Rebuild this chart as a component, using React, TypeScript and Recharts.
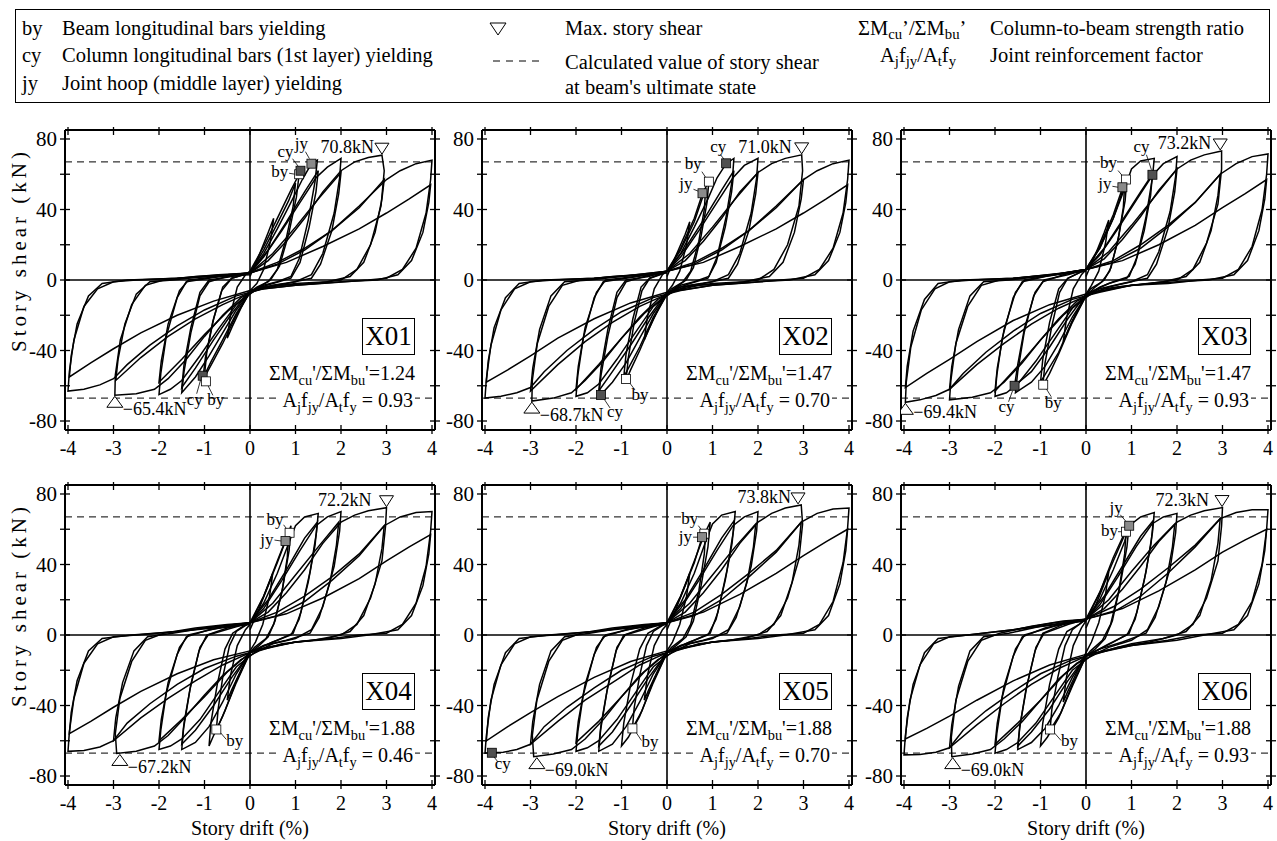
import React from 'react'
import { ComposedChart, Line, Scatter, XAxis, YAxis, ReferenceLine } from 'recharts'

const FONT = "'Liberation Serif', 'Times New Roman', Times, serif"

// axis ticks (story drift %, story shear kN)
const DRIFT_TICKS = [-4, -3, -2, -1, 0, 1, 2, 3, 4]
const SHEAR_TICKS = [-80, -60, -40, -20, 0, 20, 40, 60, 80]
const CALC_SHEAR = [67, -67]

const SPECIMENS = ['X01', 'X02', 'X03', 'X04', 'X05', 'X06']
const RATIO_CB = ['1.24', '1.47', '1.47', '1.88', '1.88', '1.88']
const JOINT_RF = ['0.93', '0.70', '0.93', '0.46', '0.70', '0.93']

// hysteresis cycles, flat [drift, shear, drift, shear, ...]
const X01_loops = [
  [0,2, 0.2,14, 0.4,27, 0.52,35, 0.45,22, 0.3,6, 0.15,-2, 0,-6, -0.2,-16, -0.4,-27, -0.5,-33, -0.43,-20, -0.28,-4, -0.1,3, 0,5],
  [0,5, 0.3,19, 0.6,35, 0.9,51, 1.08,60, 1.02,47, 0.85,26, 0.65,8, 0.45,0, 0.2,-4, 0,-7, -0.3,-20, -0.6,-36, -0.85,-48, -1.04,-57, -0.98,-44, -0.82,-24, -0.62,-6, -0.4,1, -0.15,3, 0,4],
  [0,4, 0.3,17, 0.6,32, 0.85,45, 1.0,55, 0.95,42, 0.8,24, 0.6,6, 0.4,-1, 0.15,-4, 0,-7, -0.3,-19, -0.6,-34, -0.85,-46, -1.0,-54, -0.95,-41, -0.8,-22, -0.6,-4, -0.4,1, 0,4],
  [0,4, 0.3,15, 0.6,29, 0.9,44, 1.15,57, 1.35,66, 1.48,68, 1.43,56, 1.28,34, 1.08,12, 0.9,2, 0.6,-1, 0.3,-3, 0,-7, -0.3,-17, -0.6,-30, -0.9,-43, -1.2,-55, -1.5,-64, -1.45,-52, -1.3,-30, -1.1,-9, -0.9,-1, -0.5,2, 0,4],
  [0,4, 0.4,17, 0.8,33, 1.2,50, 1.5,62, 1.45,50, 1.3,30, 1.1,10, 0.9,1, 0.5,-2, 0,-6, -0.4,-19, -0.8,-34, -1.2,-50, -1.5,-61, -1.45,-48, -1.3,-27, -1.1,-7, -0.9,0, -0.4,2, 0,4],
  [0,4, 0.3,13, 0.7,28, 1.1,44, 1.45,58, 1.7,64, 2.0,69, 1.97,58, 1.85,38, 1.6,15, 1.35,3, 1.0,-1, 0.5,-3, 0.1,-6, -0.3,-14, -0.7,-28, -1.1,-43, -1.5,-57, -1.75,-62, -2.0,-65, -1.96,-53, -1.84,-32, -1.6,-10, -1.4,-1, -0.9,1, -0.4,3, 0,4],
  [0,4, 0.5,15, 1.0,30, 1.5,46, 2.0,61, 1.95,49, 1.8,28, 1.55,9, 1.35,1, 0.8,-2, 0.3,-4, 0,-7, -0.5,-18, -1.0,-31, -1.5,-45, -2.0,-58, -1.95,-46, -1.8,-25, -1.55,-6, -1.35,0, -0.7,2, 0,4],
  [0,4, 0.4,11, 0.8,22, 1.2,35, 1.6,50, 2.0,62, 2.3,67, 2.6,69.5, 2.9,70.8, 2.95,62, 2.88,42, 2.65,20, 2.35,6, 2.0,0, 1.4,-2, 0.7,-3, 0.2,-5, -0.2,-10, -0.6,-20, -1.0,-32, -1.4,-45, -1.8,-56, -2.1,-62, -2.5,-64.5, -2.97,-65.4, -2.96,-54, -2.85,-34, -2.6,-14, -2.3,-3, -1.9,0, -1.2,2, -0.5,3, 0,4],
  [0,4, 0.6,10, 1.2,18, 1.8,28, 2.4,41, 2.95,57, 2.9,46, 2.75,27, 2.5,10, 2.2,2, 1.7,-1, 1.0,-2, 0.4,-4, 0,-7, -0.6,-14, -1.2,-22, -1.8,-32, -2.4,-44, -2.95,-57, -2.9,-45, -2.75,-25, -2.5,-8, -2.2,-1, -1.7,0, -1.0,2, 0,4],
  [0,4, 0.6,9, 1.2,17, 1.8,28, 2.4,42, 3.0,57, 3.3,62, 3.65,66, 4.0,68, 3.97,57, 3.87,38, 3.65,18, 3.35,6, 3.0,1, 2.6,0, 1.8,-1.5, 1.0,-3, 0.3,-5, -0.3,-9, -1.0,-17, -1.6,-26, -2.2,-37, -2.7,-48, -3.0,-56, -3.3,-59.5, -3.65,-62, -4.0,-63, -3.97,-52, -3.87,-34, -3.65,-15, -3.35,-5, -3.0,-1, -2.5,0, -1.6,1, -0.7,3, 0,4],
  [0,4, 0.8,10, 1.6,19, 2.4,29, 3.0,38, 3.5,46, 3.97,54, 3.93,44, 3.8,27, 3.55,11, 3.25,3, 2.8,0, 2.0,-1, 1.0,-3, 0,-6, -0.8,-12, -1.6,-20, -2.4,-30, -3.0,-39, -3.5,-47, -3.97,-55, -3.93,-43, -3.8,-25, -3.55,-9, -3.25,-2, -2.7,0, -1.6,1, 0,3],
]

const X02_loops = [
  [0,2, 0.2,14, 0.4,26, 0.5,33, 0.43,20, 0.28,5, 0.12,-3, 0,-7, -0.2,-17, -0.4,-28, -0.5,-34, -0.43,-21, -0.28,-5, -0.1,3, 0,5],
  [0,5, 0.3,18, 0.6,35, 0.78,49, 0.92,56, 0.88,44, 0.75,25, 0.58,7, 0.42,0, 0.2,-4, 0,-8, -0.3,-22, -0.6,-40, -0.8,-51, -0.9,-57, -0.85,-44, -0.72,-24, -0.55,-6, -0.38,1, -0.15,3, 0,5],
  [0,5, 0.3,17, 0.6,33, 0.85,52, 0.82,40, 0.7,22, 0.52,5, 0.35,-1, 0.1,-5, 0,-8, -0.3,-21, -0.6,-38, -0.95,-55, -0.9,-42, -0.75,-22, -0.57,-4, -0.38,1, 0,5],
  [0,5, 0.3,15, 0.6,30, 0.9,46, 1.1,58, 1.3,66, 1.47,69, 1.44,58, 1.3,36, 1.1,13, 0.92,2, 0.6,-1, 0.3,-3, 0,-8, -0.3,-19, -0.6,-33, -0.9,-47, -1.2,-58, -1.45,-65, -1.5,-66, -1.45,-54, -1.3,-32, -1.1,-10, -0.9,-1, -0.5,2, 0,5],
  [0,5, 0.4,18, 0.8,34, 1.2,51, 1.47,62, 1.42,50, 1.28,30, 1.08,10, 0.9,1, 0.5,-2, 0,-7, -0.4,-21, -0.8,-37, -1.2,-52, -1.5,-63, -1.45,-50, -1.3,-28, -1.1,-7, -0.9,0, -0.4,2, 0,5],
  [0,5, 0.3,13, 0.7,28, 1.1,44, 1.45,58, 1.7,65, 2.0,69, 1.97,58, 1.85,38, 1.6,15, 1.35,3, 1.0,-1, 0.5,-3, 0.1,-7, -0.3,-15, -0.7,-30, -1.1,-45, -1.5,-59, -1.75,-64, -2.0,-66, -1.96,-54, -1.84,-33, -1.6,-10, -1.4,-1, -0.9,1, -0.4,3, 0,5],
  [0,5, 0.5,15, 1.0,30, 1.5,46, 2.0,61, 1.95,49, 1.8,28, 1.55,9, 1.35,1, 0.8,-2, 0.3,-4, 0,-8, -0.5,-19, -1.0,-33, -1.5,-48, -2.0,-62, -1.95,-49, -1.8,-27, -1.55,-7, -1.35,0, -0.7,2, 0,5],
  [0,5, 0.4,11, 0.8,22, 1.2,35, 1.6,50, 2.0,61, 2.3,66, 2.6,69, 2.96,71, 2.98,62, 2.9,42, 2.65,20, 2.35,6, 2.0,0, 1.4,-2, 0.7,-3, 0.2,-6, -0.2,-11, -0.6,-21, -1.0,-33, -1.4,-46, -1.8,-57, -2.1,-64, -2.5,-67, -2.97,-68.7, -2.96,-57, -2.85,-36, -2.6,-15, -2.3,-3, -1.9,0, -1.2,2, -0.5,3, 0,5],
  [0,5, 0.6,10, 1.2,18, 1.8,28, 2.4,41, 3.0,57, 2.95,46, 2.8,27, 2.55,10, 2.25,2, 1.7,-1, 1.0,-2, 0.4,-4, 0,-8, -0.6,-15, -1.2,-24, -1.8,-35, -2.4,-48, -3.0,-63, -2.95,-50, -2.8,-28, -2.55,-9, -2.25,-1, -1.7,0, -1.0,2, 0,5],
  [0,5, 0.6,9, 1.2,17, 1.8,28, 2.4,42, 3.0,57, 3.3,62, 3.65,66, 4.0,68, 3.97,57, 3.87,38, 3.65,18, 3.35,6, 3.0,1, 2.5,0, 1.8,-1.5, 1.0,-3, 0.3,-6, -0.3,-10, -1.0,-18, -1.6,-28, -2.2,-40, -2.7,-52, -3.0,-61, -3.3,-64, -3.65,-66, -4.0,-67, -3.97,-56, -3.87,-37, -3.65,-17, -3.35,-5, -3.0,-1, -2.5,0, -1.6,1, -0.7,3, 0,5],
  [0,5, 0.8,10, 1.6,19, 2.4,29, 3.0,38, 3.5,46, 3.97,54, 3.93,44, 3.8,27, 3.55,11, 3.25,3, 2.7,0, 2.0,-1, 1.0,-3, 0,-7, -0.8,-13, -1.6,-22, -2.4,-33, -3.0,-43, -3.5,-51, -3.97,-58, -3.93,-46, -3.8,-27, -3.55,-10, -3.25,-2, -2.7,0, -1.6,1, 0,4],
]

const X03_loops = [
  [0,2, 0.2,14, 0.4,27, 0.5,34, 0.43,21, 0.28,5, 0.12,-3, 0,-8, -0.2,-18, -0.4,-29, -0.5,-35, -0.43,-22, -0.28,-5, -0.1,3, 0,6],
  [0,6, 0.3,19, 0.6,37, 0.8,52, 0.9,58, 0.86,45, 0.72,25, 0.55,7, 0.4,0, 0.2,-4, 0,-9, -0.3,-24, -0.6,-42, -0.8,-53, -0.95,-60, -0.9,-47, -0.75,-26, -0.58,-7, -0.4,1, -0.15,4, 0,6],
  [0,6, 0.3,18, 0.6,35, 0.85,54, 0.82,41, 0.7,22, 0.52,5, 0.35,-1, 0.1,-5, 0,-9, -0.3,-23, -0.6,-41, -1.0,-58, -0.95,-45, -0.8,-24, -0.6,-5, -0.4,1, 0,6],
  [0,6, 0.3,18, 0.6,35, 0.88,54, 1.0,63, 1.2,67.5, 1.5,69, 1.46,58, 1.32,36, 1.12,13, 0.95,2, 0.6,-1, 0.3,-4, 0,-9, -0.3,-21, -0.6,-36, -0.9,-49, -1.2,-58, -1.55,-64, -1.5,-52, -1.36,-30, -1.15,-9, -0.95,-1, -0.5,3, 0,6],
  [0,6, 0.4,18, 0.8,34, 1.2,50, 1.46,60, 1.42,48, 1.28,28, 1.08,9, 0.9,1, 0.5,-2, 0,-8, -0.4,-22, -0.8,-38, -1.2,-52, -1.57,-60, -1.5,-48, -1.35,-27, -1.12,-7, -0.92,0, -0.4,3, 0,6],
  [0,6, 0.3,14, 0.7,29, 1.1,45, 1.45,59, 1.7,66, 2.0,70, 1.97,59, 1.85,39, 1.6,16, 1.35,3, 1.0,-1, 0.5,-4, 0.1,-8, -0.3,-16, -0.7,-31, -1.1,-46, -1.5,-59, -1.75,-64, -2.0,-66, -1.96,-54, -1.84,-33, -1.6,-10, -1.4,-1, -0.9,2, -0.4,4, 0,6],
  [0,6, 0.5,16, 1.0,31, 1.5,47, 2.0,63, 1.95,50, 1.8,29, 1.55,9, 1.35,1, 0.8,-2, 0.3,-5, 0,-9, -0.5,-20, -1.0,-34, -1.5,-49, -2.0,-63, -1.95,-50, -1.8,-28, -1.55,-7, -1.35,0, -0.7,3, 0,6],
  [0,6, 0.4,12, 0.8,23, 1.2,36, 1.6,51, 2.0,63, 2.3,68, 2.6,71, 2.98,73.2, 2.98,63, 2.9,43, 2.65,21, 2.35,6, 2.0,0, 1.4,-2, 0.7,-4, 0.2,-7, -0.2,-12, -0.6,-22, -1.0,-34, -1.4,-47, -1.8,-58, -2.1,-64, -2.5,-66.5, -3.0,-68, -2.97,-57, -2.86,-36, -2.6,-15, -2.3,-3, -1.9,0, -1.2,2, -0.5,4, 0,6],
  [0,6, 0.6,11, 1.2,20, 1.8,31, 2.4,44, 2.95,60, 2.9,48, 2.75,28, 2.5,10, 2.2,2, 1.7,-1, 1.0,-3, 0.4,-5, 0,-9, -0.6,-16, -1.2,-25, -1.8,-36, -2.4,-48, -3.0,-62, -2.95,-49, -2.8,-28, -2.55,-9, -2.25,-1, -1.7,0, -1.0,2, 0,6],
  [0,6, 0.6,10, 1.2,18, 1.8,30, 2.4,44, 2.95,60, 3.3,66, 3.65,70, 4.0,71.5, 3.97,60, 3.87,40, 3.65,19, 3.35,6, 3.0,1, 2.5,0, 1.8,-2, 1.0,-3, 0.3,-7, -0.3,-11, -1.0,-19, -1.6,-29, -2.2,-41, -2.7,-53, -3.0,-62, -3.3,-65.5, -3.65,-68, -3.97,-69.4, -3.95,-58, -3.85,-38, -3.62,-17, -3.32,-5, -3.0,-1, -2.5,0, -1.6,1, -0.7,3, 0,6],
  [0,6, 0.8,11, 1.6,20, 2.4,31, 3.0,41, 3.5,49, 3.97,57, 3.93,46, 3.8,28, 3.55,11, 3.25,3, 2.7,0, 2.0,-1, 1.0,-3, 0,-8, -0.8,-14, -1.6,-23, -2.4,-35, -3.0,-45, -3.5,-53, -3.97,-61, -3.93,-49, -3.8,-29, -3.55,-11, -3.25,-2, -2.7,0, -1.6,1, 0,5],
]

const X04_loops = [
  [0,3, 0.2,15, 0.4,28, 0.5,35, 0.43,22, 0.28,6, 0.12,-4, 0,-9, -0.2,-20, -0.4,-31, -0.5,-37, -0.43,-23, -0.28,-6, -0.1,3, 0,6],
  [0,6, 0.3,22, 0.6,42, 0.8,55, 0.9,62, 0.86,48, 0.72,27, 0.55,8, 0.4,-1, 0.2,-6, 0,-10, -0.3,-27, -0.6,-46, -0.8,-57, -0.9,-63, -0.86,-50, -0.72,-28, -0.55,-8, -0.38,1, -0.15,5, 0,7],
  [0,7, 0.3,22, 0.6,41, 0.85,58, 0.82,44, 0.7,24, 0.52,6, 0.35,-2, 0.1,-7, 0,-10, -0.3,-26, -0.55,-43, -0.74,-54, -0.7,-42, -0.6,-24, -0.45,-6, -0.3,2, 0,7],
  [0,7, 0.3,18, 0.6,35, 0.85,52, 1.0,62, 1.2,67, 1.5,69, 1.46,58, 1.32,36, 1.12,13, 0.95,1, 0.6,-3, 0.3,-6, 0,-10, -0.3,-22, -0.6,-38, -0.9,-52, -1.2,-61, -1.5,-65, -1.46,-53, -1.32,-31, -1.12,-9, -0.95,0, -0.5,4, 0,7],
  [0,7, 0.4,20, 0.8,37, 1.2,55, 1.48,64, 1.43,51, 1.28,30, 1.08,9, 0.9,0, 0.5,-4, 0,-10, -0.4,-24, -0.8,-40, -1.2,-54, -1.5,-62, -1.45,-50, -1.3,-28, -1.1,-7, -0.92,0, -0.4,4, 0,7],
  [0,7, 0.3,15, 0.7,31, 1.1,48, 1.45,62, 1.7,67, 2.0,70, 1.97,59, 1.85,39, 1.6,16, 1.35,3, 1.0,-2, 0.5,-5, 0.1,-10, -0.3,-18, -0.7,-33, -1.1,-48, -1.5,-59, -1.75,-63, -2.0,-65, -1.96,-54, -1.84,-33, -1.6,-11, -1.4,-1, -0.9,3, -0.4,5, 0,7],
  [0,7, 0.5,18, 1.0,34, 1.5,50, 1.95,64, 1.9,51, 1.76,30, 1.52,10, 1.32,1, 0.8,-3, 0.3,-6, 0,-10, -0.5,-21, -1.0,-35, -1.5,-48, -2.0,-60, -1.95,-48, -1.8,-27, -1.55,-7, -1.35,0, -0.7,4, 0,7],
  [0,7, 0.4,13, 0.8,24, 1.2,37, 1.6,52, 2.0,64, 2.3,68, 2.6,70.5, 3.0,72.2, 2.98,62, 2.9,42, 2.65,21, 2.35,6, 2.0,0, 1.4,-3, 0.7,-5, 0.2,-9, -0.2,-14, -0.6,-23, -1.0,-34, -1.4,-46, -1.8,-57, -2.1,-63, -2.5,-66, -2.93,-67.2, -2.96,-56, -2.86,-36, -2.6,-15, -2.3,-3, -1.9,1, -1.2,4, -0.5,6, 0,7],
  [0,7, 0.6,13, 1.2,22, 1.8,33, 2.4,46, 2.95,62, 2.9,49, 2.75,29, 2.5,11, 2.2,2, 1.7,-2, 1.0,-4, 0.4,-7, 0,-10, -0.6,-17, -1.2,-26, -1.8,-36, -2.4,-47, -3.0,-60, -2.95,-47, -2.8,-27, -2.55,-9, -2.25,-1, -1.7,1, -1.0,4, 0,7],
  [0,7, 0.6,11, 1.2,19, 1.8,31, 2.4,45, 2.95,62, 3.3,67, 3.65,69.5, 4.0,70, 3.97,59, 3.87,39, 3.65,18, 3.35,6, 3.0,1, 2.4,0, 1.8,-2, 1.0,-4, 0.3,-8, -0.3,-12, -1.0,-19, -1.6,-28, -2.2,-39, -2.7,-50, -3.0,-60, -3.3,-63.5, -3.65,-65.5, -4.0,-66, -3.97,-55, -3.87,-36, -3.65,-16, -3.35,-5, -3.0,-1, -2.5,0, -1.6,2, -0.7,5, 0,7],
  [0,7, 0.8,12, 1.6,21, 2.4,32, 3.0,42, 3.5,50, 3.97,57, 3.93,46, 3.8,28, 3.55,11, 3.25,3, 2.6,0, 2.0,-2, 1.0,-4, 0,-9, -0.8,-14, -1.6,-22, -2.4,-32, -3.0,-41, -3.5,-49, -3.97,-56, -3.93,-44, -3.8,-26, -3.55,-9, -3.25,-2, -2.6,0, -1.6,2, 0,6],
]

const X05_loops = [
  [0,3, 0.2,15, 0.4,28, 0.5,35, 0.43,22, 0.28,6, 0.12,-4, 0,-9, -0.2,-20, -0.4,-31, -0.5,-37, -0.43,-23, -0.28,-6, -0.1,3, 0,6],
  [0,6, 0.3,22, 0.6,42, 0.82,57, 0.95,64, 0.9,50, 0.75,28, 0.58,8, 0.42,-1, 0.2,-6, 0,-10, -0.3,-27, -0.6,-46, -0.85,-58, -1.0,-63, -0.95,-50, -0.8,-28, -0.6,-8, -0.42,1, -0.15,5, 0,7],
  [0,7, 0.3,22, 0.6,41, 0.77,55.5, 0.85,60, 0.82,46, 0.7,25, 0.52,6, 0.35,-2, 0.1,-7, 0,-10, -0.3,-26, -0.55,-43, -0.76,-53, -0.72,-41, -0.6,-23, -0.45,-6, -0.3,2, 0,7],
  [0,7, 0.3,18, 0.6,35, 0.85,53, 1.0,63, 1.2,68, 1.5,70, 1.46,59, 1.32,37, 1.12,13, 0.95,1, 0.6,-3, 0.3,-6, 0,-10, -0.3,-22, -0.6,-38, -0.9,-52, -1.2,-62, -1.5,-66, -1.46,-54, -1.32,-32, -1.12,-9, -0.95,0, -0.5,4, 0,7],
  [0,7, 0.4,20, 0.8,37, 1.2,55, 1.48,65, 1.43,52, 1.28,31, 1.08,9, 0.9,0, 0.5,-4, 0,-10, -0.4,-24, -0.8,-40, -1.2,-55, -1.5,-63, -1.45,-51, -1.3,-29, -1.1,-7, -0.92,0, -0.4,4, 0,7],
  [0,7, 0.3,15, 0.7,31, 1.1,48, 1.45,62, 1.7,67, 2.0,70, 1.97,59, 1.85,39, 1.6,16, 1.35,3, 1.0,-2, 0.5,-5, 0.1,-10, -0.3,-18, -0.7,-33, -1.1,-48, -1.5,-60, -1.75,-64, -2.0,-66, -1.96,-55, -1.84,-34, -1.6,-11, -1.4,-1, -0.9,3, -0.4,5, 0,7],
  [0,7, 0.5,18, 1.0,34, 1.5,50, 1.95,63, 1.9,50, 1.76,30, 1.52,10, 1.32,1, 0.8,-3, 0.3,-6, 0,-10, -0.5,-21, -1.0,-35, -1.5,-49, -2.0,-61, -1.95,-49, -1.8,-28, -1.55,-7, -1.35,0, -0.7,4, 0,7],
  [0,7, 0.4,13, 0.8,24, 1.2,37, 1.6,52, 2.0,64, 2.3,69, 2.6,72, 2.95,73.8, 2.98,63, 2.9,43, 2.65,21, 2.35,6, 2.0,0, 1.4,-3, 0.7,-5, 0.2,-9, -0.2,-14, -0.6,-23, -1.0,-35, -1.4,-48, -1.8,-59, -2.1,-65, -2.5,-67.5, -2.93,-69, -2.96,-57, -2.86,-37, -2.6,-15, -2.3,-3, -1.9,1, -1.2,4, -0.5,6, 0,7],
  [0,7, 0.6,13, 1.2,23, 1.8,35, 2.4,48, 2.95,64, 2.9,51, 2.75,30, 2.5,11, 2.2,2, 1.7,-2, 1.0,-4, 0.4,-7, 0,-10, -0.6,-17, -1.2,-27, -1.8,-37, -2.4,-49, -3.0,-62, -2.95,-49, -2.8,-28, -2.55,-9, -2.25,-1, -1.7,1, -1.0,4, 0,7],
  [0,7, 0.6,11, 1.2,20, 1.8,33, 2.4,47, 2.95,64, 3.3,69, 3.65,71.5, 4.0,72, 3.97,61, 3.87,41, 3.65,19, 3.35,6, 3.0,1, 2.4,0, 1.8,-2, 1.0,-4, 0.3,-8, -0.3,-12, -1.0,-20, -1.6,-30, -2.2,-41, -2.7,-52, -3.0,-62, -3.3,-65, -3.6,-66.5, -3.85,-66.8, -4.0,-67, -3.97,-57, -3.87,-37, -3.65,-17, -3.35,-5, -3.0,-1, -2.5,0, -1.6,2, -0.7,5, 0,7],
  [0,7, 0.8,13, 1.6,23, 2.4,35, 3.0,45, 3.5,53, 3.97,60, 3.93,48, 3.8,29, 3.55,11, 3.25,3, 2.6,0, 2.0,-2, 1.0,-4, 0,-9, -0.8,-15, -1.6,-24, -2.4,-35, -3.0,-44, -3.5,-52, -3.97,-60, -3.93,-47, -3.8,-28, -3.55,-10, -3.25,-2, -2.6,0, -1.6,2, 0,6],
]

const X06_loops = [
  [0,4, 0.2,16, 0.4,29, 0.5,36, 0.43,23, 0.28,7, 0.12,-4, 0,-10, -0.2,-21, -0.4,-32, -0.5,-38, -0.43,-24, -0.28,-6, -0.1,4, 0,8],
  [0,8, 0.3,24, 0.6,44, 0.85,58, 0.95,63, 0.9,50, 0.75,28, 0.58,8, 0.42,-2, 0.2,-8, 0,-12, -0.3,-29, -0.6,-47, -0.85,-58, -1.0,-63, -0.95,-50, -0.8,-28, -0.6,-8, -0.42,2, -0.15,6, 0,9],
  [0,9, 0.3,24, 0.6,42, 0.88,58.6, 0.85,46, 0.72,25, 0.54,6, 0.36,-3, 0.1,-9, 0,-12, -0.3,-28, -0.55,-44, -0.79,-54, -0.75,-42, -0.62,-24, -0.46,-6, -0.3,3, 0,9],
  [0,9, 0.3,20, 0.6,37, 0.85,53, 0.95,62, 1.2,67, 1.5,69.5, 1.46,58, 1.32,36, 1.12,13, 0.95,1, 0.6,-4, 0.3,-8, 0,-12, -0.3,-24, -0.6,-40, -0.9,-53, -1.2,-61, -1.5,-65, -1.46,-53, -1.32,-31, -1.12,-9, -0.95,1, -0.5,6, 0,9],
  [0,9, 0.4,22, 0.8,39, 1.2,56, 1.48,65, 1.43,52, 1.28,31, 1.08,9, 0.9,0, 0.5,-5, 0,-12, -0.4,-26, -0.8,-42, -1.2,-55, -1.5,-63, -1.45,-51, -1.3,-29, -1.1,-7, -0.92,1, -0.4,6, 0,9],
  [0,9, 0.3,17, 0.7,33, 1.1,50, 1.45,63, 1.7,67, 2.0,69, 1.97,58, 1.85,38, 1.6,16, 1.35,3, 1.0,-3, 0.5,-7, 0.1,-12, -0.3,-20, -0.7,-35, -1.1,-50, -1.5,-61, -1.75,-65, -2.0,-67, -1.96,-56, -1.84,-35, -1.6,-12, -1.4,-1, -0.9,4, -0.4,7, 0,9],
  [0,9, 0.5,20, 1.0,36, 1.5,51, 1.95,63, 1.9,50, 1.76,30, 1.52,10, 1.32,1, 0.8,-4, 0.3,-8, 0,-12, -0.5,-23, -1.0,-37, -1.5,-50, -2.0,-62, -1.95,-50, -1.8,-29, -1.55,-8, -1.35,0, -0.7,5, 0,9],
  [0,9, 0.4,15, 0.8,26, 1.2,39, 1.6,53, 2.0,64, 2.3,68, 2.6,70.5, 3.0,72.3, 2.98,62, 2.9,42, 2.65,21, 2.35,6, 2.0,0, 1.4,-4, 0.7,-7, 0.2,-11, -0.2,-16, -0.6,-25, -1.0,-37, -1.4,-49, -1.8,-59, -2.1,-65, -2.5,-67.5, -2.95,-69, -2.96,-58, -2.86,-37, -2.6,-15, -2.3,-3, -1.9,1, -1.2,5, -0.5,8, 0,9],
  [0,9, 0.6,16, 1.2,26, 1.8,38, 2.4,51, 2.95,66, 2.9,52, 2.75,31, 2.5,11, 2.2,2, 1.7,-2, 1.0,-5, 0.4,-9, 0,-12, -0.6,-19, -1.2,-28, -1.8,-39, -2.4,-51, -3.0,-64, -2.95,-51, -2.8,-29, -2.55,-9, -2.25,-1, -1.7,1, -1.0,5, 0,9],
  [0,9, 0.6,13, 1.2,22, 1.8,35, 2.4,50, 2.95,66, 3.3,69.5, 3.65,71, 4.0,71, 3.97,60, 3.87,40, 3.65,19, 3.35,6, 3.0,1, 2.4,0, 1.8,-3, 1.0,-6, 0.3,-10, -0.3,-14, -1.0,-22, -1.6,-32, -2.2,-43, -2.7,-54, -3.0,-64, -3.3,-66.5, -3.65,-67.8, -4.0,-68, -3.97,-57, -3.87,-37, -3.65,-17, -3.35,-5, -3.0,-1, -2.6,0, -1.6,3, -0.7,7, 0,9],
  [0,9, 0.8,15, 1.6,25, 2.4,37, 3.0,47, 3.5,54, 3.97,60, 3.93,48, 3.8,29, 3.55,11, 3.25,3, 2.6,0, 2.0,-3, 1.0,-6, 0,-11, -0.8,-17, -1.6,-26, -2.4,-37, -3.0,-46, -3.5,-53, -3.97,-59, -3.93,-47, -3.8,-28, -3.55,-10, -3.25,-2, -2.6,0, -1.6,3, 0,8],
]

// yielding events
const X01_yields = [
  { kind: 'by', x: 1.08, y: 60 }, { kind: 'cy', x: 1.11, y: 62 }, { kind: 'jy', x: 1.35, y: 66 },
  { kind: 'cy', x: -1.04, y: -54.3 }, { kind: 'by', x: -0.97, y: -57.5 },
]
const X02_yields = [
  { kind: 'jy', x: 0.78, y: 49.2 }, { kind: 'by', x: 0.92, y: 55.8 }, { kind: 'cy', x: 1.3, y: 66.2 },
  { kind: 'cy', x: -1.45, y: -65.2 }, { kind: 'by', x: -0.9, y: -56.2 },
]
const X03_yields = [
  { kind: 'by', x: 0.88, y: 57 }, { kind: 'jy', x: 0.8, y: 52.6 }, { kind: 'cy', x: 1.46, y: 59.7 },
  { kind: 'cy', x: -1.57, y: -60 }, { kind: 'by', x: -0.94, y: -59.4 },
]
const X04_yields = [
  { kind: 'by', x: 0.87, y: 58 }, { kind: 'jy', x: 0.78, y: 53.3 }, { kind: 'by', x: -0.74, y: -53.6 },
]
const X05_yields = [
  { kind: 'by', x: 0.82, y: 57.5 }, { kind: 'jy', x: 0.77, y: 55.5 }, { kind: 'by', x: -0.76, y: -53 },
  { kind: 'cy', x: -3.85, y: -66.8 },
]
const X06_yields = [
  { kind: 'by', x: 0.88, y: 58.6 }, { kind: 'jy', x: 0.95, y: 62 }, { kind: 'by', x: -0.79, y: -53.6 },
]

// max story shear
const X01_peaks = [{ x: 2.9, y: 70.8, label: '70.8kN' }, { x: -2.97, y: -65.4, label: '\u221265.4kN' }]
const X02_peaks = [{ x: 2.96, y: 71.0, label: '71.0kN' }, { x: -2.97, y: -68.7, label: '\u221268.7kN' }]
const X03_peaks = [{ x: 2.95, y: 73.2, label: '73.2kN' }, { x: -3.97, y: -69.4, label: '\u221269.4kN' }]
const X04_peaks = [{ x: 3.0, y: 72.2, label: '72.2kN' }, { x: -2.86, y: -67.2, label: '\u221267.2kN' }]
const X05_peaks = [{ x: 2.88, y: 73.8, label: '73.8kN' }, { x: -2.86, y: -69.0, label: '\u221269.0kN' }]
const X06_peaks = [{ x: 2.99, y: 72.3, label: '72.3kN' }, { x: -2.93, y: -69.0, label: '\u221269.0kN' }]

// label placement (px): leader x1,y1,x2,y2 then text dx,dy,anchor
const TAGS: any[][] = [
  [[-4,0,-10,-1,-11,3,'end'], [-2,-4,-8,-12,-7,-14,'end'], [-2,-5,-6,-12,-10,-15,'middle'], [-2,4,-6,18,-8,29,'middle'], [2,4,7,14,10,24,'middle']],
  [[-4,-2,-9,-4,-10,-4,'end'], [-3,-4,-7,-10,-7,-13,'end'], [-2,-4,-6,-9,-8,-11,'middle'], [3,4,9,13,14,22,'middle'], [3,3,9,11,14,21,'middle']],
  [[-3,-3,-8,-9,-9,-12,'end'], [-4,0,-10,-1,-11,2,'end'], [-1,-5,-6,-20,-11,-23,'middle'], [-2,5,-6,16,-8,26,'middle'], [3,4,8,12,10,23,'middle']],
  [[-3,-4,-6,-8,-6,-8,'end'], [-4,0,-11,-1,-12,4,'end'], [4,3,10,10,10,17,'start']],
  [[-3,-4,-6,-8,-6,-10,'end'], [-4,0,-9,0,-10,5,'end'], [3,3,9,12,9,19,'start'], [2,4,6,9,11,16,'middle']],
  [[-4,0,-8,0,-8,4,'end'], [-3,-4,-9,-11,-13,-13,'middle'], [4,3,11,11,11,17,'start']],
]
const PEAK_TAGS = [[-8, 20], [-10, 20], [-9, 16], [-15, 20], [-7, 19], [-13, 19]]

const LOOPS = [X01_loops, X02_loops, X03_loops, X04_loops, X05_loops, X06_loops]
const YIELDS = [X01_yields, X02_yields, X03_yields, X04_yields, X05_yields, X06_yields]
const PEAKS = [X01_peaks, X02_peaks, X03_peaks, X04_peaks, X05_peaks, X06_peaks]

const FILL: Record<string, string> = { by: '#ffffff', cy: '#505050', jy: '#8a8a8a' }

// layout: plot box PW x PH, axes take AX_* px inside the margins
const PW = 370
const PH = 300
const ML = 60
const MR = 14
const MT = 14
const MB = 40
const AX_L = 50
const AX_R = 10
const AX_T = 10
const AX_B = 32
const COL_LEFT = [65, 482, 901]
const ROW_TOP = [130, 485]
const LEG = 20.5

const toPts = (flat: number[]) => {
  const out: { x: number; y: number }[] = []
  for (let i = 0; i < flat.length; i += 2) out.push({ x: flat[i], y: flat[i + 1] })
  return out
}

function Txt({ x, y, size = LEG, anchor = 'start', bg, children }: any) {
  const top = y - size * 0.8375
  const base: any = { position: 'absolute', top, fontSize: size, lineHeight: `${size}px`, whiteSpace: 'nowrap', fontFamily: FONT }
  if (anchor === 'end') { base.left = x - 500; base.width = 500; base.textAlign = 'right' }
  else if (anchor === 'middle') { base.left = x - 250; base.width = 500; base.textAlign = 'center' }
  else base.left = x
  return (
    <div style={base}>
      <span style={bg ? { background: '#fff', padding: '0 2px' } : undefined}>{children}</span>
    </div>
  )
}

const Sub = ({ children }: any) => (
  <span style={{ fontSize: '0.72em', position: 'relative', top: '0.3em' }}>{children}</span>
)

function Panel({ idx }: { idx: number }) {
  const col = idx % 3
  const row = Math.floor(idx / 3)
  const left = COL_LEFT[col]
  const top = ROW_TOP[row]
  const tags = TAGS[idx]
  const ptag = PEAK_TAGS[idx]
  const yields = YIELDS[idx].map((d, i) => ({ ...d, i }))

  const bottomTick = (p: any) => (
    <g>
      <line x1={p.x} x2={p.x} y1={MT + PH - 5} y2={MT + PH + 4} stroke="#000" strokeWidth={1.3} />
      <text x={p.x} y={MT + PH + 25} textAnchor="middle" fontSize={20} fontFamily={FONT} fill="#000">{p.payload.value}</text>
    </g>
  )
  const topTick = (p: any) => (
    <line x1={p.x} x2={p.x} y1={MT - 3} y2={MT + 5} stroke="#000" strokeWidth={1.3} />
  )
  const leftTick = (p: any) => (
    <g>
      <line x1={ML - 5} x2={ML + 5} y1={p.y} y2={p.y} stroke="#000" strokeWidth={1.3} />
      {p.payload.value % 40 === 0 && (
        <text x={ML - 8} y={p.y} dy="0.35em" textAnchor="end" fontSize={21} fontFamily={FONT} fill="#000">{p.payload.value}</text>
      )}
    </g>
  )
  const rightTick = (p: any) => (
    <line x1={ML + PW - 5} x2={ML + PW + 5} y1={p.y} y2={p.y} stroke="#000" strokeWidth={1.3} />
  )

  const yieldShape = (p: any) => {
    const { cx, cy, payload } = p
    const t = tags[payload.i]
    return (
      <g>
        <line x1={cx + t[0]} y1={cy + t[1]} x2={cx + t[2]} y2={cy + t[3]} stroke="#000" strokeWidth={0.8} />
        <rect x={cx - 4.5} y={cy - 4.5} width={9} height={9} fill={FILL[payload.kind]} stroke="#000" strokeWidth={0.8} />
        <text x={cx + t[4]} y={cy + t[5]} textAnchor={t[6]} fontSize={17} fontFamily={FONT} fill="#000">{payload.kind}</text>
      </g>
    )
  }

  const peakShape = (p: any) => {
    const { cx, cy, payload } = p
    const up = payload.y > 0
    const pts = up
      ? `${cx - 7},${cy - 12} ${cx + 7},${cy - 12} ${cx},${cy - 1}`
      : `${cx - 8},${cy + 12} ${cx + 8},${cy + 12} ${cx},${cy + 1}`
    return (
      <g>
        <polygon points={pts} fill="#fff" stroke="#000" strokeWidth={1} />
        <text x={up ? cx + ptag[0] : cx + 8} y={up ? cy - 2 : cy + ptag[1]} textAnchor={up ? 'end' : 'start'} fontSize={18} fontFamily={FONT} fill="#000">{payload.label}</text>
      </g>
    )
  }

  const axisLine = { stroke: '#000', strokeWidth: 2 }

  return (
    <>
      <div style={{ position: 'absolute', left: left - ML, top: top - MT }}>
        <ComposedChart width={PW + ML + MR} height={PH + MT + MB}
          margin={{ top: MT - AX_T, right: MR - AX_R, bottom: MB - AX_B, left: ML - AX_L }}>
          <XAxis xAxisId="b" orientation="bottom" type="number" dataKey="x" domain={[-4.066, 4.066]} ticks={DRIFT_TICKS} interval={0} allowDataOverflow
            height={AX_B} tickLine={false} tick={bottomTick} axisLine={axisLine} />
          <XAxis xAxisId="t" orientation="top" type="number" dataKey="x" domain={[-4.066, 4.066]} ticks={DRIFT_TICKS} interval={0} allowDataOverflow
            height={AX_T} tickLine={false} tick={topTick} axisLine={axisLine} />
          <YAxis yAxisId="l" orientation="left" type="number" domain={[-85.1, 85.1]} ticks={SHEAR_TICKS} interval={0} allowDataOverflow
            width={AX_L} tickLine={false} tick={leftTick} axisLine={axisLine} />
          <YAxis yAxisId="r" orientation="right" type="number" domain={[-85.1, 85.1]} ticks={SHEAR_TICKS} interval={0} allowDataOverflow
            width={AX_R} tickLine={false} tick={rightTick} axisLine={axisLine} />
          <ReferenceLine xAxisId="b" yAxisId="l" x={0} stroke="#000" strokeWidth={1.6} />
          <ReferenceLine xAxisId="b" yAxisId="l" y={0} stroke="#000" strokeWidth={1.6} />
          {CALC_SHEAR.map((v) => (
            <ReferenceLine key={v} xAxisId="b" yAxisId="l" y={v} stroke="#000" strokeWidth={1} strokeDasharray="7 5" />
          ))}
          {LOOPS[idx].map((loop, i) => (
            <Line key={i} xAxisId="b" yAxisId="l" data={toPts(loop)} dataKey="y" type="linear" dot={false} activeDot={false}
              stroke="#000" strokeWidth={1.5} isAnimationActive={false} />
          ))}
          <Scatter xAxisId="b" yAxisId="l" data={PEAKS[idx]} dataKey="y" shape={peakShape} isAnimationActive={false} />
          <Scatter xAxisId="b" yAxisId="l" data={yields} dataKey="y" shape={yieldShape} isAnimationActive={false} />
        </ComposedChart>
      </div>
      <div style={{ position: 'absolute', left: left + 297, top: top + 188, width: 51, height: 35, border: '1.5px solid #000',
        fontSize: 27, lineHeight: '35px', textAlign: 'center', fontFamily: FONT, background: '#fff' }}>{SPECIMENS[idx]}</div>
      <Txt x={left + 350} y={top + 250} size={20} anchor="end">
        ΣM<Sub>cu</Sub>'/ΣM<Sub>bu</Sub>'={RATIO_CB[idx]}
      </Txt>
      <Txt x={left + 350} y={top + 277} size={20} anchor="end" bg>
        A<Sub>j</Sub>f<Sub>jy</Sub>/A<Sub>t</Sub>f<Sub>y</Sub> = {JOINT_RF[idx]}
      </Txt>
      {row === 1 && (
        <Txt x={left + PW / 2} y={835} size={20} anchor="middle">Story drift (%)</Txt>
      )}
      {col === 0 && (
        <div style={{ position: 'absolute', left: 19 - 150, top: top + 120 - 12, width: 300, height: 24, textAlign: 'center',
          transform: 'rotate(-90deg)', fontSize: 21, lineHeight: '24px', letterSpacing: 4, fontFamily: FONT, whiteSpace: 'nowrap' }}>
          Story shear (kN)
        </div>
      )}
    </>
  )
}

export default function App() {
  return (
    <div style={{ position: 'absolute', left: 0, top: 0, width: 1277, height: 841, background: '#fff', fontFamily: FONT, color: '#000' }}>
      <div style={{ position: 'absolute', left: 15, top: 9, width: 1253, height: 92, border: '1.5px solid #000' }} />
      <Txt x={22} y={35}>by</Txt>
      <Txt x={62} y={35}>Beam longitudinal bars yielding</Txt>
      <Txt x={22} y={62}>cy</Txt>
      <Txt x={62} y={62}>Column longitudinal bars (1st layer) yielding</Txt>
      <Txt x={22} y={90}>jy</Txt>
      <Txt x={62} y={90}>Joint hoop (middle layer) yielding</Txt>
      <svg style={{ position: 'absolute', left: 480, top: 15 }} width={80} height={60}>
        <polygon points="10,8 26,8 18,20" fill="#fff" stroke="#000" strokeWidth={1} />
        <line x1={13} x2={62} y1={46} y2={46} stroke="#000" strokeWidth={1} strokeDasharray="7 6" />
      </svg>
      <Txt x={565} y={35}>Max. story shear</Txt>
      <Txt x={565} y={69}>Calculated value of story shear</Txt>
      <Txt x={565} y={94}>at beam's ultimate state</Txt>
      <Txt x={858} y={35}>ΣM<Sub>cu</Sub>’/ΣM<Sub>bu</Sub>’</Txt>
      <Txt x={990} y={35}>Column-to-beam strength ratio</Txt>
      <Txt x={880} y={62}>A<Sub>j</Sub>f<Sub>jy</Sub>/A<Sub>t</Sub>f<Sub>y</Sub></Txt>
      <Txt x={990} y={62}>Joint reinforcement factor</Txt>
      {SPECIMENS.map((s, i) => <Panel key={s} idx={i} />)}
    </div>
  )
}
